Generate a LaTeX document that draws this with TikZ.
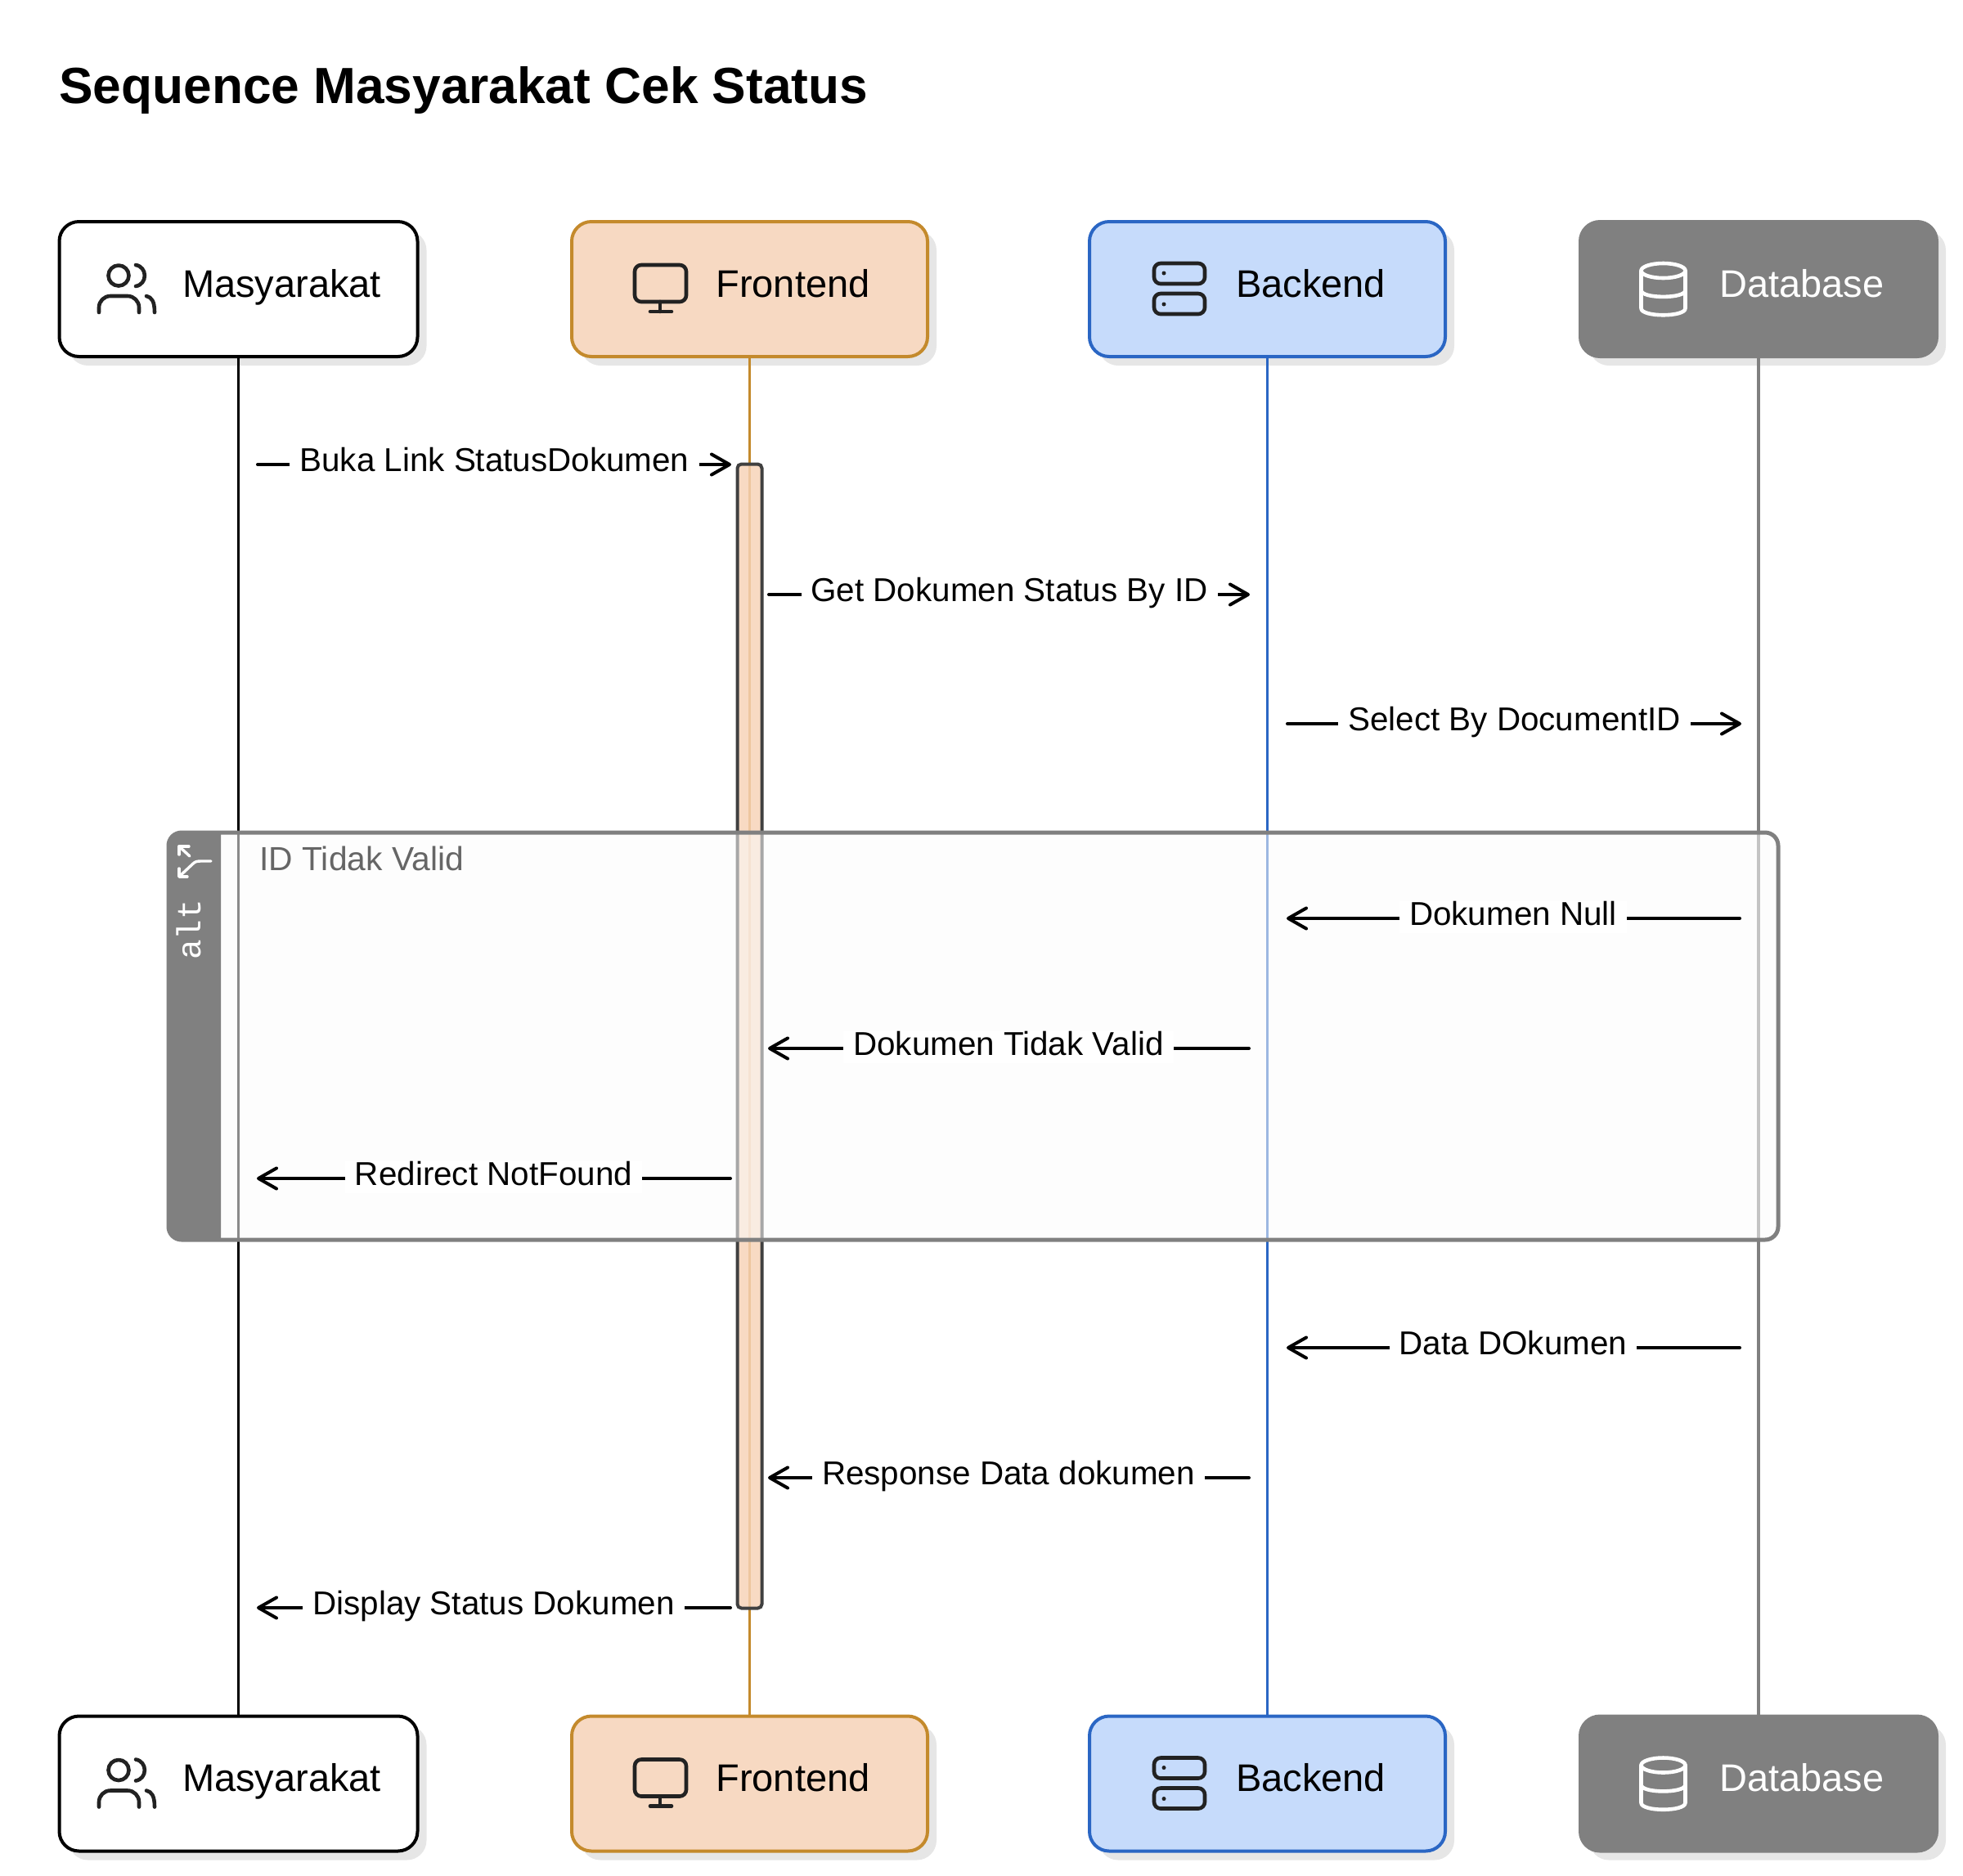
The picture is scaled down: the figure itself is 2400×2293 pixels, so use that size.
\documentclass[tikz,border=0pt]{standalone}
\usepackage{fontspec}
\setmainfont{Liberation Sans}
\setmonofont{Liberation Mono}
\usetikzlibrary{arrows.meta,shadows}
\definecolor{masLine}{HTML}{000000}
\definecolor{feLine}{HTML}{C48A2C}
\definecolor{feFill}{HTML}{F7D9C2}
\definecolor{acFill}{HTML}{F7D3B7}
\definecolor{beLine}{HTML}{2A66C4}
\definecolor{beFill}{HTML}{C6DBFB}
\definecolor{dbGray}{HTML}{808080}
\definecolor{shadeGray}{HTML}{E6E6E6}
\definecolor{iconDark}{HTML}{222222}
\tikzset{
	actorbox/.style={draw, line width=2pt, rounded corners=12pt, minimum height=82.5pt, inner sep=0pt,
		drop shadow={shadow xshift=5.5pt, shadow yshift=-5.5pt, fill=shadeGray, opacity=1}},
	actorlabel/.style={font=\fontsize{23.5}{28}\selectfont, inner sep=0pt, text height=17pt, text depth=5pt},
	lifeline/.style={line width=1.6pt},
	msgline/.style={line width=2pt, line cap=round, -{Straight Barb[length=11pt,width=12.5pt,round]}},
	msglabel/.style={font=\fontsize{20.2}{24}\selectfont, fill=white, inner ysep=0pt, inner xsep=6pt, text height=15pt, text depth=4.5pt, yshift=1pt},
	iconline/.style={line width=2.3pt, line cap=round, line join=round},
	pics/peopleicon/.style={code={
		\draw[iconline] (-146.5,-16.5) circle[radius=12.5];
		\draw[iconline] (-125.5,-29.5) .. controls (-111,-27) and (-111,-6) .. (-125.5,-3.5);
		\draw[iconline, rounded corners=7pt] (-170.5,28.5) -- (-170.5,8.5) -- (-121.5,8.5) -- (-121.5,28.5);
		\draw[iconline] (-112.5,8.5) .. controls (-106,10) and (-102.5,15) .. (-102.5,28.5);
	}},
	pics/screenicon/.style={code={
		\draw[iconline, rounded corners=4pt] (-140.5,-29.5) rectangle (-77.5,15.5);
		\draw[iconline] (-109.5,15.5) -- (-109.5,27.5);
		\draw[iconline] (-121.5,27.5) -- (-95.5,27.5);
	}},
	pics/servericon/.style={code={
		\draw[iconline, rounded corners=4pt] (-138.5,-31.5) rectangle (-76.5,-6.5);
		\draw[iconline, rounded corners=4pt] (-138.5,5.5) rectangle (-76.5,30.5);
		\fill (-126.5,-19.5) circle[radius=2.5];
		\fill (-126.5,18.5) circle[radius=2.5];
	}},
	pics/dataicon/.style={code={
		\draw[iconline] (-116.5,-22.5) ellipse[x radius=27, y radius=9];
		\draw[iconline] (-143.5,-22.5) -- (-143.5,23.5) .. controls (-143.5,34.5) and (-89.5,34.5) .. (-89.5,23.5) -- (-89.5,-22.5);
		\draw[iconline] (-143.5,1.5) .. controls (-143.5,12) and (-89.5,12) .. (-89.5,1.5);
	}}
}
\begin{document}
\begin{tikzpicture}[x=.5pt, y=-.5pt]
	\useasboundingbox (0,0) rectangle (2400,2293);
	\node[anchor=west, inner sep=0pt, font=\fontsize{31.1}{36}\selectfont\bfseries] (title) at (72,110) {Sequence Masyarakat Cek Status};
	\foreach \side/\ypos in {Top/353.5, Bot/2181} {
		\node[actorbox, draw=masLine, fill=white, minimum width=219pt] (mas\side) at (291.5,\ypos) {};
		\node[actorbox, draw=feLine, fill=feFill, minimum width=217.5pt] (fe\side) at (916.5,\ypos) {};
		\node[actorbox, draw=beLine, fill=beFill, minimum width=217.5pt] (be\side) at (1549.5,\ypos) {};
		\node[actorbox, draw=dbGray, fill=dbGray, minimum width=218pt] (db\side) at (2150,\ypos) {};
		\node[actorlabel] (masText\side) at ([shift={(53,-2.5)}]mas\side.center) {Masyarakat};
		\node[actorlabel] (feText\side) at ([shift={(53,-2.5)}]fe\side.center) {Frontend};
		\node[actorlabel] (beText\side) at ([shift={(53,-2.5)}]be\side.center) {Backend};
		\node[actorlabel, text=white] (dbText\side) at ([shift={(53,-2.5)}]db\side.center) {Database};
		\pic[draw=iconDark, fill=iconDark] at (mas\side.center) {peopleicon};
		\pic[draw=iconDark, fill=iconDark] at (fe\side.center) {screenicon};
		\pic[draw=iconDark, fill=iconDark] at (be\side.center) {servericon};
		\pic[draw=white] at (db\side.center) {dataicon};
	}
	\draw[lifeline, masLine] (masTop) -- (masBot);
	\draw[lifeline, feLine] (feTop) -- (feBot);
	\draw[lifeline, beLine] (beTop) -- (beBot);
	\draw[lifeline, dbGray] (dbTop) -- (dbBot);
	\node[draw=black!75, line width=2pt, fill=acFill, fill opacity=.83, rounded corners=2.5pt, minimum width=15pt, minimum height=699.5pt, inner sep=0pt] (act) at (916.5,1267) {};
	\draw[line width=2.5pt, dbGray, fill=white!99!black, fill opacity=.55, rounded corners=8pt] (206,1018) rectangle (2174,1516);
	\fill[dbGray, rounded corners=8pt] (270,1018) -- (206,1018) -- (206,1516) [sharp corners] -- (270,1516) -- cycle;
	\node[rotate=90, text=white, inner sep=0pt, font=\ttfamily\fontsize{20.5}{22}\selectfont] (altText) at (231,1137) {alt};
	\draw[white, line width=1.7pt, line cap=round, line join=round] (258,1053) -- (245,1053) .. controls (240,1053) and (238,1054) .. (235,1057) -- (219,1072);
	\draw[white, line width=1.7pt, line cap=round, line join=round] (219,1062) -- (219,1072) -- (229,1072);
	\draw[white, line width=1.7pt, line cap=round, line join=round] (232,1047) -- (219,1035);
	\draw[white, line width=1.7pt, line cap=round, line join=round] (219,1045) -- (219,1035) -- (231,1035);
	\node[anchor=west, inner sep=0pt, text=black!60, font=\fontsize{20.4}{24}\selectfont] (altGuard) at (317,1050) {ID Tidak Valid};
	\foreach \i/\from/\to/\ypos/\txt in {
		1/315/894/568/Buka Link StatusDokumen,
		2/940/1528/727/Get Dokumen Status By ID,
		3/1574/2129/885/Select By DocumentID,
		4/2127/1573/1123/Dokumen Null,
		5/1527/939/1282/Dokumen Tidak Valid,
		6/893/314/1441/Redirect NotFound,
		7/2127/1573/1648/Data DOkumen,
		8/1527/939/1807/Response Data dokumen,
		9/893/314/1966/Display Status Dokumen} {
		\coordinate (from\i) at (\from,\ypos);
		\coordinate (to\i) at (\to,\ypos);
		\draw[msgline] (from\i) -- node[msglabel] (label\i) {\txt} (to\i);
	}
\end{tikzpicture}
\end{document}
